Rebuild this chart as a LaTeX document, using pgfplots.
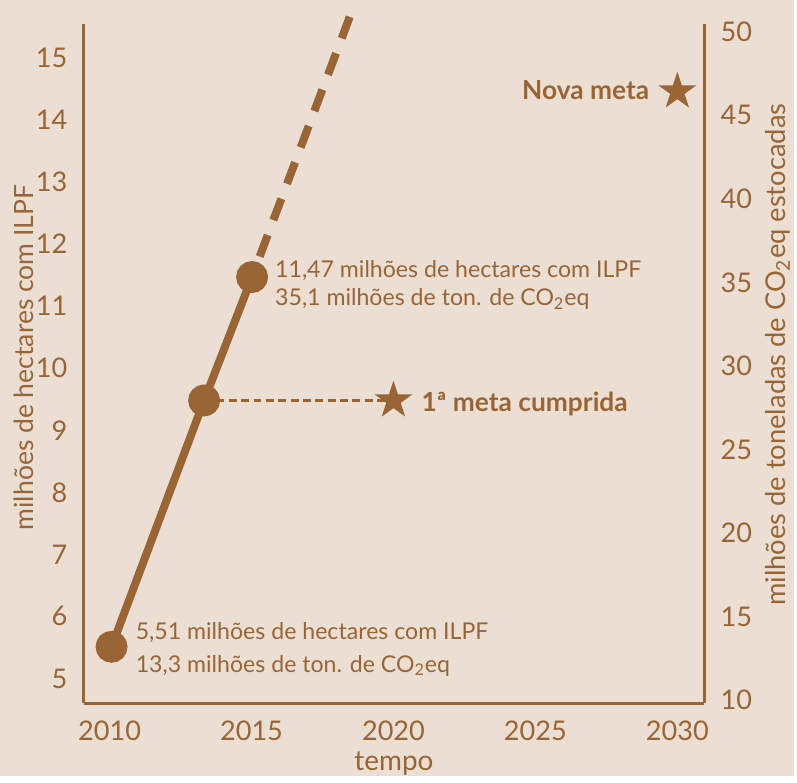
\documentclass[border=0pt]{standalone}
\usepackage{fontspec}
\setmainfont{Lato}
\usepackage{pgfplots}
\pgfplotsset{compat=1.18}
\usetikzlibrary{backgrounds}

\definecolor{bgc}{RGB}{235,223,212}
\definecolor{brn}{RGB}{153,101,52}

% filled five-pointed star
\pgfdeclareplotmark{fstar}{%
  \pgfpathmoveto{\pgfpointpolar{90}{\pgfplotmarksize}}%
  \pgfpathlineto{\pgfpointpolar{126}{0.382\pgfplotmarksize}}%
  \pgfpathlineto{\pgfpointpolar{162}{\pgfplotmarksize}}%
  \pgfpathlineto{\pgfpointpolar{198}{0.382\pgfplotmarksize}}%
  \pgfpathlineto{\pgfpointpolar{234}{\pgfplotmarksize}}%
  \pgfpathlineto{\pgfpointpolar{270}{0.382\pgfplotmarksize}}%
  \pgfpathlineto{\pgfpointpolar{306}{\pgfplotmarksize}}%
  \pgfpathlineto{\pgfpointpolar{342}{0.382\pgfplotmarksize}}%
  \pgfpathlineto{\pgfpointpolar{18}{\pgfplotmarksize}}%
  \pgfpathlineto{\pgfpointpolar{54}{0.382\pgfplotmarksize}}%
  \pgfpathclose\pgfusepathqfill}

\begin{document}
\begin{tikzpicture}
\pgfplotsset{every axis/.append style={scale only axis,width=311.5pt,height=341pt,
  axis line style={brn,line width=1.5pt},major tick length=0pt,
  tick label style={brn,font=\fontsize{13.6}{16}\selectfont,inner sep=0pt},
  /pgf/number format/assume math mode=true,/pgf/number format/1000 sep={},
  xmin=2009.088,xmax=2030.947}}

\begin{axis}[axis x line*=bottom,axis y line*=left,ymin=4.6,ymax=15.55,
  xtick={2010,2015,...,2030},ytick={5,...,15},
  xticklabel style={yshift=-8.5pt},yticklabel style={xshift=-8pt},clip=false]
\coordinate (bl) at (rel axis cs:0,0);
\coordinate (tr) at (rel axis cs:1,1);
% projection
\addplot[brn,line width=4pt,dash pattern=on 11.5pt off 8pt,dash phase=11.5pt]
  coordinates {(2015.09,11.56) (2018.49,15.70)};
% 1a meta reference
\addplot[brn,line width=1.2pt,dash pattern=on 4pt off 2.2pt]
  coordinates {(2013.33,9.48) (2020.0,9.48)};
% observed
\addplot[brn,line width=4pt,mark=*,mark size=6pt]
  coordinates {(2010.07,5.51) (2013.33,9.48) (2015.02,11.47)};
% goals
\addplot[brn,only marks,mark=fstar,mark size=10pt]
  coordinates {(2020.0,9.48) (2030.0,14.46)};

\node[brn,anchor=base west,font=\fontsize{11.6}{13}\selectfont,inner sep=0pt]
  at (axis cs:2015.82,11.47) {11,47 milhões de hectares com ILPF};
\node[brn,anchor=base west,font=\fontsize{11.6}{13}\selectfont,inner sep=0pt]
  at (axis cs:2015.82,11.01) {35,1 milhões de ton. de CO\textsubscript{2}eq};
\node[brn,anchor=base west,font=\fontsize{11.6}{13}\selectfont,inner sep=0pt]
  at (axis cs:2010.91,5.63) {5,51 milhões de hectares com ILPF};
\node[brn,anchor=base west,font=\fontsize{11.6}{13}\selectfont,inner sep=0pt]
  at (axis cs:2010.91,5.10) {13,3 milhões de ton. de CO\textsubscript{2}eq};
\node[brn,anchor=base west,font=\bfseries\fontsize{13.2}{15}\selectfont,inner sep=0pt]
  at (axis cs:2020.98,9.305) {1ª meta cumprida};
\node[brn,anchor=base east,font=\bfseries\fontsize{13.2}{15}\selectfont,inner sep=0pt]
  at (axis cs:2029.02,14.33) {Nova meta};

\node[brn,rotate=90,font=\fontsize{13.3}{15}\selectfont]
  at ([xshift=-30pt]rel axis cs:0,0.509) {milhões de hectares com ILPF};
\node[brn,font=\fontsize{14}{16}\selectfont]
  at ([yshift=-30.5pt]rel axis cs:0.5,0) {tempo};
\end{axis}

\begin{axis}[axis x line=none,axis y line*=right,ymin=9.82,ymax=50.46,
  ytick={10,15,...,50},yticklabel style={xshift=8pt},clip=false]
\node[brn,rotate=90,font=\fontsize{13.7}{15}\selectfont]
  at ([xshift=37pt]rel axis cs:1,0.513) {milhões de toneladas de CO\textsubscript{2}eq estocadas};
\end{axis}

\begin{scope}[on background layer]
\fill[bgc] ([shift={(-42pt,-36.5pt)}]bl) rectangle ([shift={(45pt,12pt)}]tr);
\end{scope}
\end{tikzpicture}
\end{document}
